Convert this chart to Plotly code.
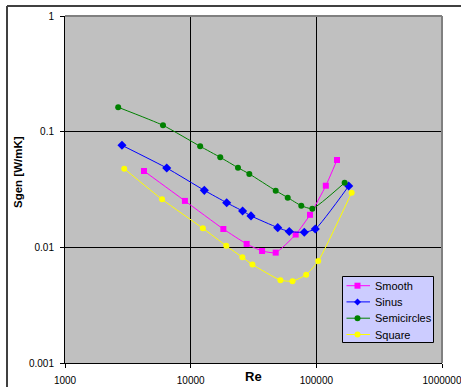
import plotly.graph_objects as go

# Entropy generation vs Reynolds number for four wall profiles
re_smooth = [4250, 9000, 18200, 27900, 37000, 47500, 68500, 89000, 119000, 146000]
sgen_smooth = [0.0457, 0.0252, 0.0144, 0.0107, 0.0093, 0.0090, 0.0129, 0.0191, 0.0341, 0.0569]

re_sinus = [2840, 6450, 12840, 19350, 25900, 30200, 49300, 60900, 80200, 98100, 181000]
sgen_sinus = [0.0762, 0.0485, 0.0311, 0.0243, 0.0206, 0.0187, 0.0148, 0.0137, 0.0135, 0.0144, 0.0339]

re_semi = [2650, 6020, 11900, 17200, 23800, 29300, 47500, 59200, 75900, 92900, 168000]
sgen_semi = [0.1625, 0.1135, 0.0747, 0.0600, 0.0488, 0.0431, 0.0309, 0.0269, 0.0229, 0.0216, 0.0362]

re_square = [2960, 5920, 12500, 19200, 25800, 31000, 51800, 64600, 83000, 103500, 191000]
sgen_square = [0.0478, 0.0260, 0.0146, 0.0103, 0.0082, 0.0071, 0.0052, 0.0051, 0.0058, 0.0076, 0.0297]

x_ticks = [1000, 10000, 100000, 1000000]
x_tick_text = ["1000", "10000", "100000", "1000000"]
y_ticks = [0.001, 0.01, 0.1, 1]
y_tick_text = ["0.001", "0.01", "0.1", "1"]

FONT = "Liberation Sans, Arial, sans-serif"
W, H = 461, 387
ML, MR, MT, MB = 65, 19, 16, 24
PW, PH = W - ML - MR, H - MT - MB


def px(xp):
    """Pixel x -> paper x."""
    return (xp - ML) / PW


def py(yp):
    """Pixel y -> paper y."""
    return 1 - (yp - MT) / PH


series = [
    ("Smooth", re_smooth, sgen_smooth, "#FF00FF", "square", 6),
    ("Sinus", re_sinus, sgen_sinus, "#0000FF", "diamond", 7),
    ("Semicircles", re_semi, sgen_semi, "#008000", "circle", 6),
    ("Square", re_square, sgen_square, "#FFFF00", "circle", 6),
]

fig = go.Figure()
for name, xs, ys, color, symbol, size in series:
    fig.add_trace(go.Scatter(
        x=xs, y=ys, name=name, mode="lines+markers",
        line=dict(color=color, width=1, shape="spline", smoothing=0.5),
        marker=dict(color=color, symbol=symbol, size=size),
        showlegend=False,
    ))

axis_common = dict(
    type="log",
    showgrid=True, gridcolor="#000000", gridwidth=1,
    showline=True, linecolor="#000000", linewidth=1,
    ticks="outside", ticklen=4, tickcolor="#000000",
    tickfont=dict(family=FONT, size=10, color="#000000"),
    zeroline=False, automargin=False, ticklabeloverflow="allow",
)

fig.update_xaxes(**axis_common, range=[3, 6], tickvals=x_ticks, ticktext=x_tick_text,
                 ticklabelstandoff=4)
fig.update_yaxes(**axis_common, range=[-3, 0], tickvals=y_ticks, ticktext=y_tick_text,
                 ticklabelstandoff=4)

shapes = [
    # gray frame on top and right of the plot area
    dict(type="line", xref="paper", yref="paper", x0=0, x1=1, y0=1, y1=1,
         line=dict(color="#808080", width=2)),
    dict(type="line", xref="paper", yref="paper", x0=1, x1=1, y0=0, y1=1,
         line=dict(color="#808080", width=2)),
    # outer chart border
    dict(type="line", xref="paper", yref="paper", x0=px(7), x1=px(480), y0=py(6), y1=py(6),
         line=dict(color="#404040", width=2)),
    dict(type="line", xref="paper", yref="paper", x0=px(7), x1=px(7), y0=py(400), y1=py(6),
         line=dict(color="#404040", width=2)),
    # legend box
    dict(type="rect", xref="paper", yref="paper", x0=px(342.5), x1=px(433.5),
         y0=py(342.5), y1=py(276.5), fillcolor="#CCCCFF",
         line=dict(color="#000000", width=1)),
]

annotations = [
    dict(text="<b>Re</b>", xref="paper", yref="paper", x=px(253.5), y=py(376),
         xanchor="center", yanchor="middle", showarrow=False,
         font=dict(family=FONT, size=13, color="#000000")),
    dict(text="<b>Sgen [W/mK]</b>", xref="paper", yref="paper", x=px(18), y=py(172),
         xanchor="center", yanchor="middle", textangle=-90, showarrow=False,
         font=dict(family=FONT, size=11.5, color="#000000")),
]

# legend entries
row_y = [285.7, 301.9, 318.2, 334.5]
for (name, _, _, color, symbol, _), ry in zip(series, row_y):
    shapes.append(dict(type="line", xref="paper", yref="paper", x0=px(346.5), x1=px(370),
                       y0=py(ry), y1=py(ry), line=dict(color=color, width=1)))
    cx = 357.5
    if symbol == "square":
        shapes.append(dict(type="rect", xref="paper", yref="paper",
                           x0=px(cx - 3), x1=px(cx + 3), y0=py(ry + 3), y1=py(ry - 3),
                           fillcolor=color, line=dict(width=0)))
    elif symbol == "circle":
        shapes.append(dict(type="circle", xref="paper", yref="paper",
                           x0=px(cx - 3), x1=px(cx + 3), y0=py(ry + 3), y1=py(ry - 3),
                           fillcolor=color, line=dict(width=0)))
    else:
        path = (f"M {px(cx - 3.5)} {py(ry)} L {px(cx)} {py(ry - 3.5)} "
                f"L {px(cx + 3.5)} {py(ry)} L {px(cx)} {py(ry + 3.5)} Z")
        shapes.append(dict(type="path", xref="paper", yref="paper", path=path,
                           fillcolor=color, line=dict(width=0)))
    annotations.append(dict(text=name, xref="paper", yref="paper", x=px(372.5), y=py(ry),
                            xanchor="left", yanchor="middle", showarrow=False,
                            font=dict(family=FONT, size=11, color="#000000")))

fig.update_layout(
    width=W, height=H,
    margin=dict(l=ML, r=MR, t=MT, b=MB),
    paper_bgcolor="#FFFFFF",
    plot_bgcolor="#C0C0C0",
    font=dict(family=FONT, size=10, color="#000000"),
    showlegend=False,
    shapes=shapes,
    annotations=annotations,
)

fig.write_html("out.html")
